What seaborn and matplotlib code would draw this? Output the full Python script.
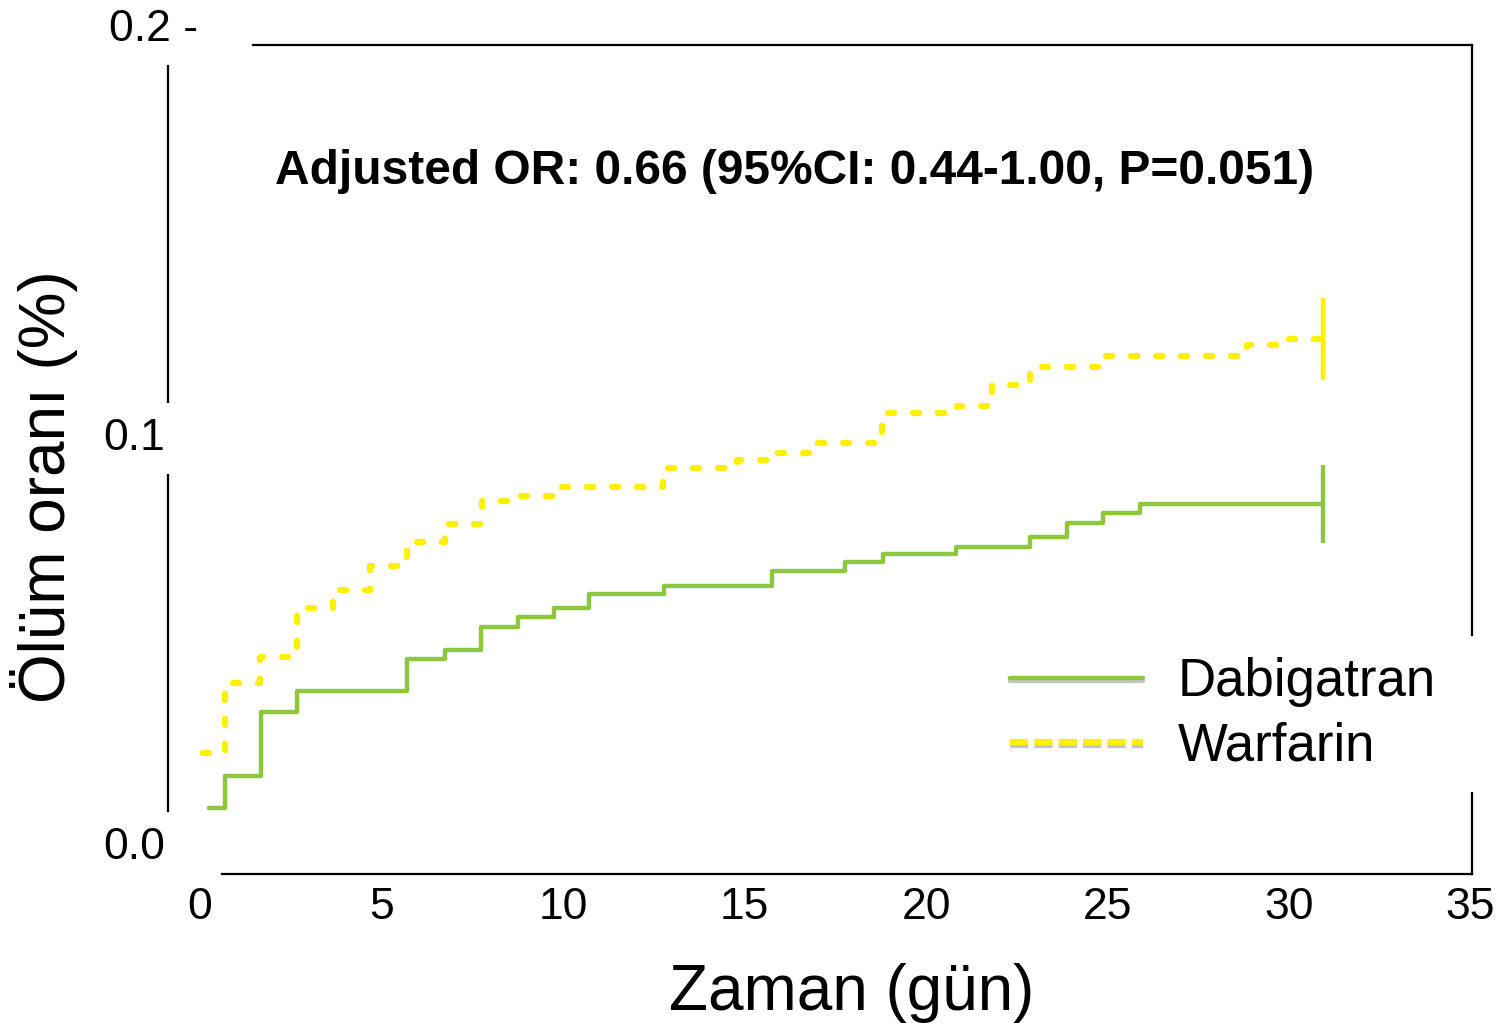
import matplotlib
matplotlib.use("Agg")
import matplotlib.pyplot as plt
import matplotlib.patheffects as pe
from matplotlib.transforms import ScaledTranslation
import seaborn as sns
import pandas as pd

# datos (días, tasa acumulada)
dabi_days = [0.25, 0.69, 1.68, 2.67, 5.70, 6.75, 7.74, 8.76, 9.75, 10.72, 12.78,
             15.76, 17.77, 18.82, 20.83, 22.87, 23.88, 24.88, 25.90, 30.94]
dabi_rate = [0.0086, 0.0164, 0.0320, 0.0372, 0.0450, 0.0472, 0.0528, 0.0553, 0.0575,
             0.0609, 0.0628, 0.0665, 0.0687, 0.0707, 0.0724, 0.0748, 0.0782, 0.0807,
             0.0829, 0.0829]

warf_days = [0.08, 0.69, 1.65, 2.67, 3.66, 4.68, 5.70, 6.75, 7.77, 8.76, 9.72, 12.75,
             14.79, 15.79, 16.80, 18.79, 20.85, 21.82, 22.87, 24.88, 28.84, 29.83, 30.94]
warf_rate = [0.0220, 0.0391, 0.0455, 0.0575, 0.0619, 0.0677, 0.0736, 0.0780, 0.0836,
             0.0848, 0.0870, 0.0917, 0.0936, 0.0954, 0.0978, 0.1051, 0.1068, 0.1120,
             0.1164, 0.1191, 0.1218, 0.1232, 0.1232]

x_ticks = [0, 5, 10, 15, 20, 25, 30, 35]
y_ticks = [0.0, 0.1, 0.2]
y_ticklabels = ["0.0", "0.1", "0.2 -"]

annot = "Adjusted OR: 0.66 (95%CI: 0.44-1.00, P=0.051)"

verde = "#8dc63f"
amarillo = "#fff000"

df_d = pd.DataFrame({"dia": dabi_days, "tasa": dabi_rate})
df_w = pd.DataFrame({"dia": warf_days, "tasa": warf_rate})

sns.set_theme(style="white")
plt.rcParams["font.family"] = ["Liberation Sans", "DejaVu Sans"]

fig = plt.figure(figsize=(15.04, 10.23), dpi=100)
ax = fig.add_axes([0.1117, 0.14565, 0.86702, 0.82991])

sns.lineplot(data=df_d, x="dia", y="tasa", color=verde, lw=3.2,
             drawstyle="steps-post", label="Dabigatran", ax=ax)
sns.lineplot(data=df_w, x="dia", y="tasa", color=amarillo, lw=4.5,
             drawstyle="steps-post", linestyle=(0, (1.0, 3.0)),
             dash_capstyle="round", label="Warfarin", ax=ax)

# marcas de censura al final
ax.plot([dabi_days[-1]], [dabi_rate[-1]], marker="|", ms=56, mew=3.2,
        color=verde, ls="none", label="_nolegend_")
ax.plot([warf_days[-1]], [warf_rate[-1]], marker="|", ms=59, mew=3.2,
        color=amarillo, ls="none", label="_nolegend_")

ax.set_xlim(-0.88, 35.04)
ax.set_ylim(-0.00758, 0.2)
ax.set_xticks(x_ticks)
ax.set_yticks(y_ticks)
ax.set_yticklabels(y_ticklabels)
ax.tick_params(axis="x", length=0, pad=9, labelsize=32, colors="black")
ax.tick_params(axis="y", length=0, pad=2, labelsize=32, colors="black")
ylabs = ax.get_yticklabels()
for lab in ylabs:
    lab.set_bbox(dict(facecolor="white", edgecolor="none", pad=11))
# la etiqueta de arriba va algo más a la derecha en el original
ylabs[2].set_transform(ylabs[2].get_transform() +
                       ScaledTranslation(0.33, 0, fig.dpi_scale_trans))
ax.yaxis.set_zorder(3)

# marco
for s in ax.spines.values():
    s.set_color("black")
    s.set_linewidth(1.6)
ax.spines["top"].set_position(("data", 0.195))
ax.spines["top"].set_bounds(1.46, 35.04)
ax.spines["bottom"].set_bounds(0.6, 35.04)
ax.spines["right"].set_bounds(-0.00758, 0.195)

ax.set_xlabel("Zaman (gün)", fontsize=46, color="black")
ax.set_ylabel("Ölüm oranı (%)", fontsize=46, color="black")
ax.xaxis.set_label_coords(0.524, -0.105)
ax.yaxis.set_label_coords(-0.069, 0.456)

ax.text(16.39, 0.1643, annot, fontsize=34.5, fontweight="bold",
        ha="center", va="center", color="black")

handles, labels = ax.get_legend_handles_labels()
leg = ax.legend(handles, labels, loc="upper left",
                bbox_to_anchor=(0.6296, 0.2804, 0.377, 0), mode="expand",
                borderaxespad=0, borderpad=0.4, fontsize=38, frameon=True,
                facecolor="white", edgecolor="none", framealpha=1,
                handlelength=2.52, handletextpad=0.66, labelspacing=0.27,
                fancybox=False, labelcolor="black")
leg_lines = leg.get_lines()
leg_lines[1].set_linestyle((0, (2.9, 1.0)))
leg_lines[1].set_dash_capstyle("butt")
for ln in leg_lines:
    ln.set_path_effects([pe.SimpleLineShadow(offset=(0, -2.5), shadow_color="gray",
                                             alpha=0.45), pe.Normal()])

fig.savefig("out.png", dpi=100)
